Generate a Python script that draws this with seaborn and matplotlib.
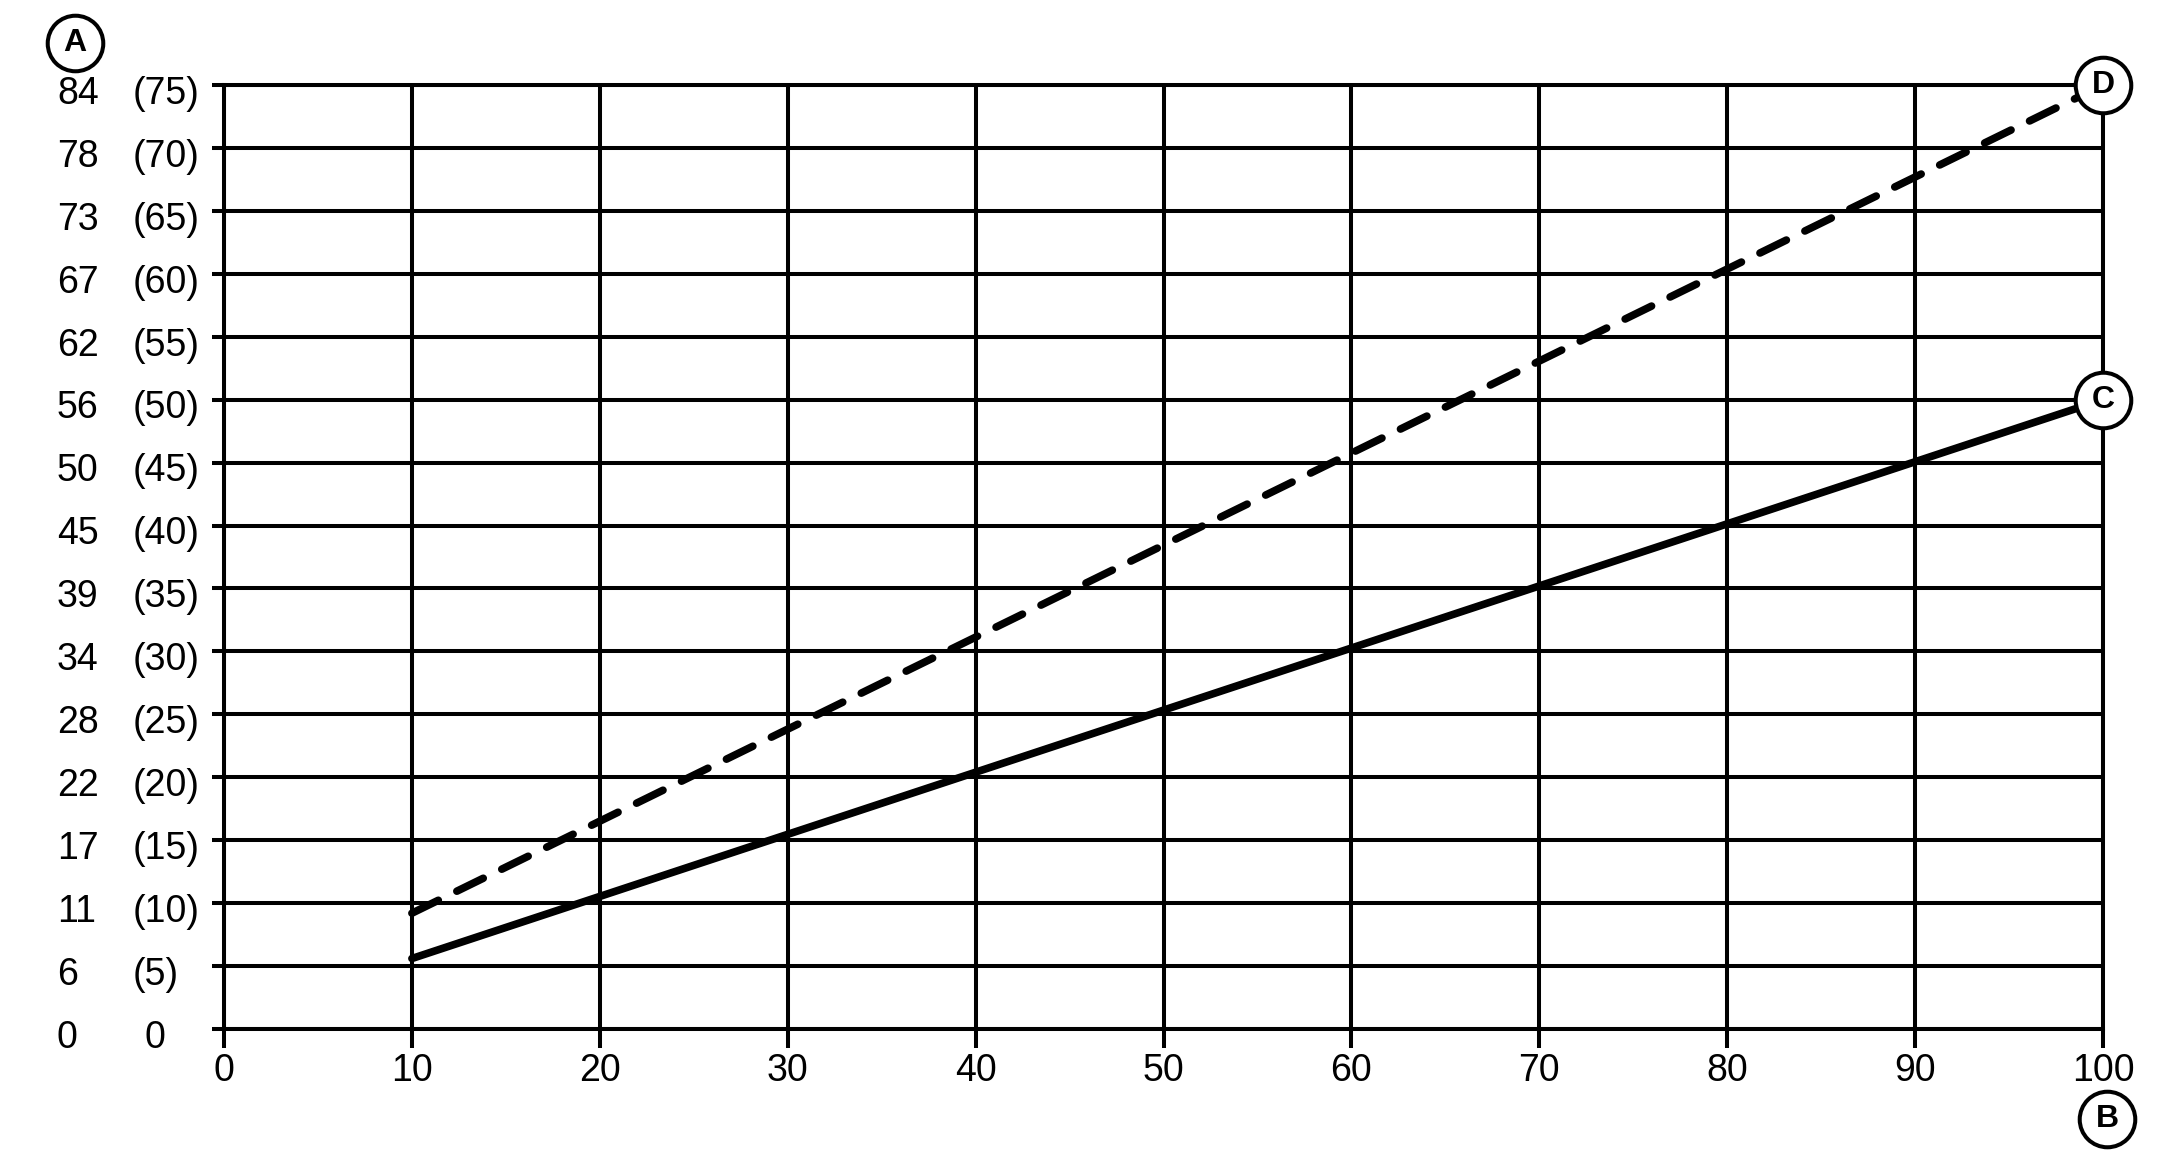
import matplotlib
matplotlib.use('Agg')
import matplotlib.pyplot as plt
import seaborn as sns
import pandas as pd
from matplotlib.lines import Line2D
from matplotlib import transforms

# ---- data ----
x_ticks = [0, 10, 20, 30, 40, 50, 60, 70, 80, 90, 100]
y_ticks = [0, 5, 10, 15, 20, 25, 30, 35, 40, 45, 50, 55, 60, 65, 70, 75]
left_labels = ['0', '6', '11', '17', '22', '28', '34', '39', '45', '50',
               '56', '62', '67', '73', '78', '84']
paren_labels = ['0', '(5)', '(10)', '(15)', '(20)', '(25)', '(30)', '(35)',
                '(40)', '(45)', '(50)', '(55)', '(60)', '(65)', '(70)', '(75)']
line_x = [10, 100]
line_c = [5.6, 50]
line_d = [9.2, 75]

sns.set_style("white")
plt.rcParams['font.family'] = ['Liberation Sans', 'DejaVu Sans']

df = pd.DataFrame({'x': line_x + line_x,
                   'y': line_c + line_d,
                   'series': ['C', 'C', 'D', 'D']})

W, H = 2158, 1158
fig = plt.figure(figsize=(W / 100, H / 100), dpi=100)
left, right, top, bottom = 224, 2103, 85, 1029
ax = fig.add_axes([left / W, 1 - bottom / H, (right - left) / W, (bottom - top) / H])

sns.lineplot(data=df, x='x', y='y', hue='series', style='series',
             palette={'C': 'black', 'D': 'black'},
             dashes={'C': '', 'D': (3.85, 2.7)},
             linewidth=5.5, legend=False, ax=ax)
for ln in ax.lines:
    ln.set_dash_capstyle('round')
    ln.set_solid_capstyle('round')
    ln.set_zorder(3)

ax.set_xlim(0, 100)
ax.set_ylim(0, 75)
ax.set_xticks(x_ticks)
ax.set_yticks(y_ticks)
ax.set_xlabel('')
ax.set_ylabel('')
ax.grid(True, color='black', linewidth=2.9)
for s in ax.spines.values():
    s.set_visible(True)
    s.set_color('black')
    s.set_linewidth(2.9)
ax.tick_params(axis='y', left=True, length=8.6, width=2.9, color='black', labelleft=False)
ax.tick_params(axis='x', bottom=True, length=14, width=2.9, color='black',
               labelsize=27, pad=3, labelcolor='black')

# y labels: two columns
tr = transforms.blended_transform_factory(fig.transFigure, ax.transData)
for yv, l1, l2 in zip(y_ticks, left_labels, paren_labels):
    ax.text(57 / W, yv - 0.7, l1, transform=tr, ha='left', va='center',
            fontsize=27, color='black', clip_on=False)
    xx = 145 / W if l2 == '0' else 133 / W
    ax.text(xx, yv - 0.7, l2, transform=tr, ha='left', va='center',
            fontsize=27, color='black', clip_on=False)

# circled markers
def circ_fig(x, y, letter):
    fig.add_artist(Line2D([x / W], [1 - y / H], transform=fig.transFigure,
                          marker='o', markersize=40, markerfacecolor='white',
                          markeredgecolor='black', markeredgewidth=2.9,
                          linestyle='none', zorder=5))
    fig.text(x / W, 1 - y / H, letter, ha='center', va='center',
             fontsize=23, fontweight='bold', color='black', zorder=6)

circ_fig(75, 43, 'A')
circ_fig(2107, 1119, 'B')

for xv, yv, letter in [(line_x[-1], line_c[-1], 'C'), (line_x[-1], line_d[-1], 'D')]:
    ax.plot([xv], [yv], marker='o', markersize=40, markerfacecolor='white',
            markeredgecolor='black', markeredgewidth=2.9, linestyle='none',
            clip_on=False, zorder=5)
    ax.text(xv, yv, letter, ha='center', va='center', fontsize=23,
            fontweight='bold', color='black', zorder=6, clip_on=False)

fig.savefig('out.png', dpi=100, facecolor='white')
